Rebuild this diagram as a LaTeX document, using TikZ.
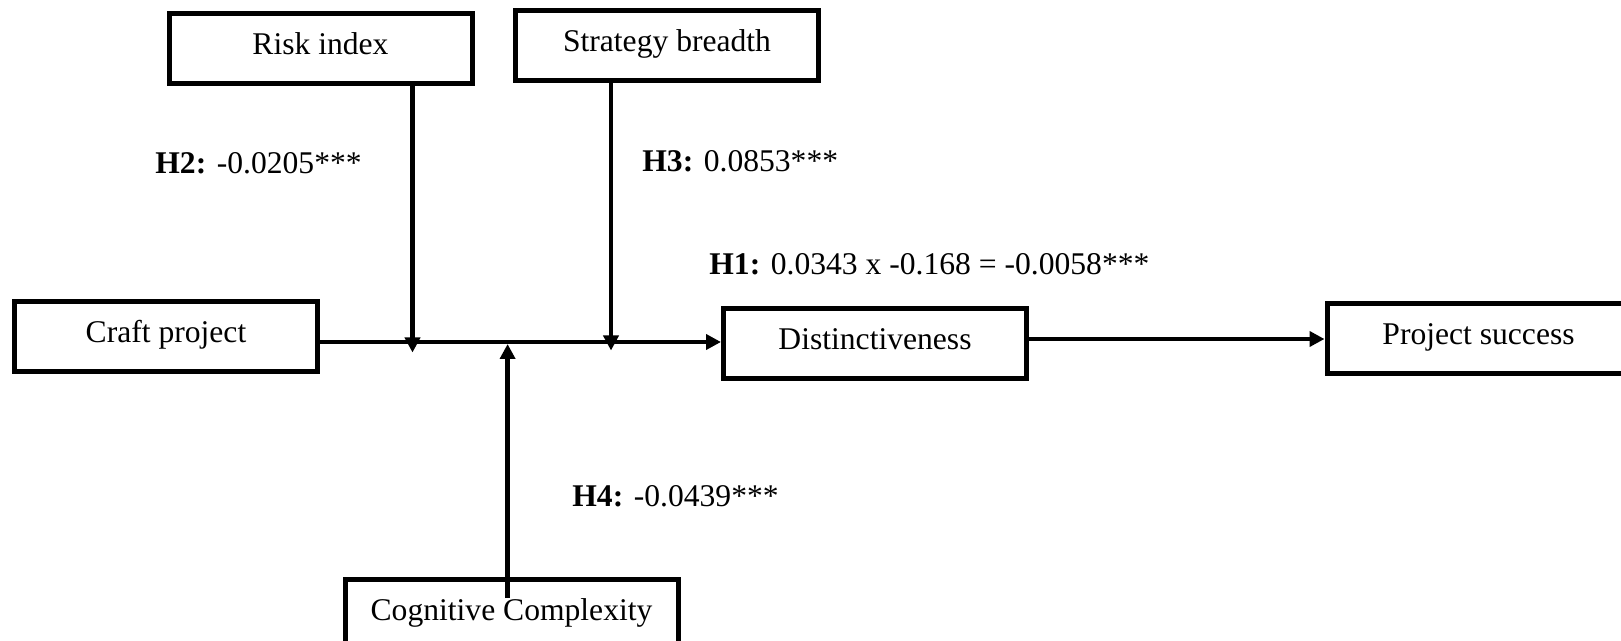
\documentclass[tikz,border=0pt]{standalone}
\usepackage{fontspec}
\setmainfont{Liberation Serif}
\usetikzlibrary{arrows.meta}
\begin{document}
\begin{tikzpicture}[x=0.5pt,y=-0.5pt,
  box/.style={draw,line width=2.5pt,minimum width=151.5pt,minimum height=35pt,inner sep=0pt,
    text height=0.7em,text depth=0.1em,font=\fontsize{15.8}{19}\selectfont},
  arr/.style={line width=2.3pt,-{Triangle[length=7.5pt,width=7.5pt]}},
  lab/.style={anchor=west,inner sep=0pt,font=\fontsize{15.8}{19}\selectfont}]
\useasboundingbox (0,0) rectangle (1621,641);
\clip (0,0) rectangle (1621,641);
% boxes
\node[box] (risk) at (320.5,49) {Risk index};
\node[box] (strat) at (667,46) {Strategy breadth};
\node[box] (craft) at (166,337) {Craft project};
\node[box] (dist) at (875,344) {Distinctiveness};
\node[box] (ps) at (1478.5,339) {Project success};
\node[box,minimum width=166.5pt] (cog) at (511.5,614) {Cognitive Complexity};
% junction coordinates
\coordinate (main) at (0,342);
\coordinate (tipR) at (412.5,352.5);
\coordinate (tipS) at (611,350.5);
\coordinate (tipC) at (507.6,344);
\coordinate (startC) at (507.6,598);
% connectors
\draw[arr] (craft.east |- main) -- (dist.west |- main);
\draw[arr] (risk.south -| tipR) -- (tipR);
\draw[arr] (strat.south -| tipS) -- (tipS);
\draw[arr] (startC) -- (tipC);
\draw[arr] (dist.east |- ps.west) -- (ps.west);
% labels
\node[lab] (h2) at (155,163) {\textbf{H2:} -0.0205***};
\node[lab] (h3) at (642,161) {\textbf{H3:} 0.0853***};
\node[lab] (h1) at (709,264) {\textbf{H1:} 0.0343 x -0.168 = -0.0058***};
\node[lab] (h4) at (572,496) {\textbf{H4:} -0.0439***};
\end{tikzpicture}
\end{document}
